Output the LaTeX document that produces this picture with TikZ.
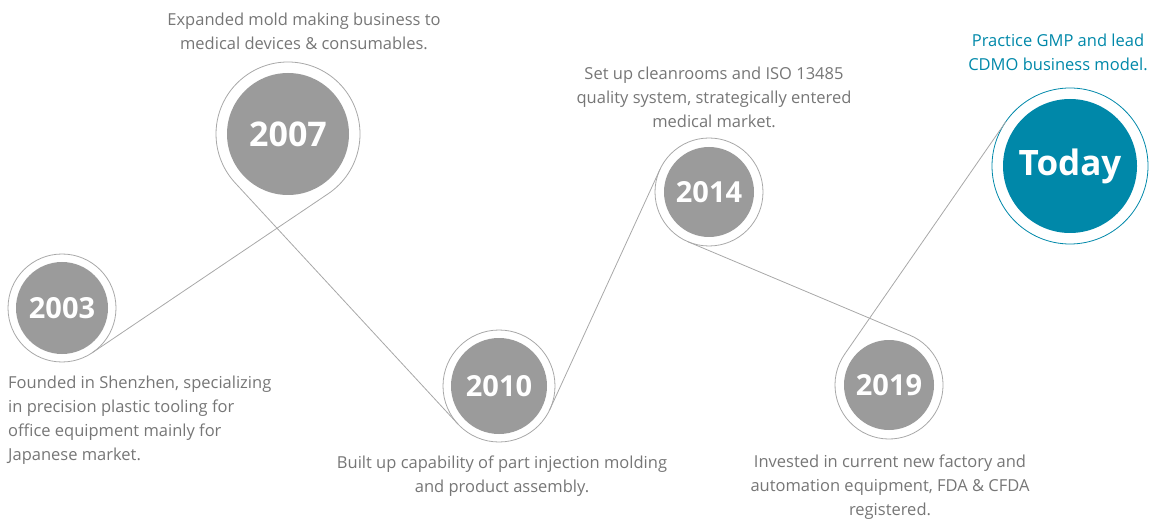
\documentclass[tikz,border=0pt]{standalone}
\usepackage{fontspec}
\setmainfont{Open Sans}
\usetikzlibrary{positioning}

\definecolor{lineGray}{HTML}{A8A8A8}
\definecolor{yearGray}{HTML}{9B9B9B}
\definecolor{noteGray}{HTML}{767676}
\definecolor{tealBlue}{HTML}{0088A9}

\tikzstyle{ring} = [
  circle, inner sep=0pt, outer sep=0pt,
  draw=lineGray, line width=0.8pt
]
\tikzstyle{pin} = [
  circle, inner sep=0pt, outer sep=0pt
]
\tikzstyle{year} = [
  circle, inner sep=0pt,
  fill=yearGray, text=white,
  font=\bfseries\fontsize{29}{29}\selectfont
]
\tikzstyle{note} = [
  inner sep=0pt, align=center, text=noteGray,
  font=\fontsize{16.5}{24}\selectfont
]
\tikzset{
  link/.style={draw=lineGray, line width=0.8pt}
}

\begin{document}
\begin{tikzpicture}[x=1pt, y=1pt]

\useasboundingbox (0,0) rectangle (1158,-526);

% ------------------------------------------------
% CIRCULOS (aros y años)
% ------------------------------------------------

% 2003
\node[ring, minimum size=108pt] (o2003) at (62,-308) {};
\node[year, minimum size=92pt] (y2003) at (o2003) {2003};

% 2007 (aro abierto por debajo)
\node[pin, minimum size=144pt] (o2007) at (288,-134) {};
\node[year, minimum size=122pt, font=\bfseries\fontsize{34}{34}\selectfont] (y2007) at (o2007) {2007};

% 2010
\node[ring, minimum size=112pt] (o2010) at (499,-386) {};
\node[year, minimum size=96pt] (y2010) at (o2010) {2010};

% 2014
\node[ring, minimum size=108pt] (o2014) at (709,-192) {};
\node[year, minimum size=90pt] (y2014) at (o2014) {2014};

% 2019 (aro abierto por arriba)
\node[pin, minimum size=108pt] (o2019) at (889,-385) {};
\node[year, minimum size=90pt] (y2019) at (o2019) {2019};

% Today
\node[ring, draw=tealBlue, minimum size=156pt] (oToday) at (1070,-166) {};
\node[year, fill=tealBlue, minimum size=134pt, font=\bfseries\fontsize{35}{35}\selectfont] (yToday) at (oToday) {Today};

% ------------------------------------------------
% TEXTOS
% ------------------------------------------------

\node[note, align=left, anchor=north west] (t2003) at (8,-376) {%
  Founded in Shenzhen, specializing\\
  in precision plastic tooling for\\
  office equipment mainly for\\
  Japanese market.
};

\node[note, above=12pt of o2007, xshift=16pt] (t2007) {%
  Expanded mold making business to\\
  medical devices \& consumables.
};

\node[note, below=14pt of o2010, xshift=3pt] (t2010) {%
  Built up capability of part injection molding\\
  and product assembly.
};

\node[note, above=10pt of o2014, xshift=5pt] (t2014) {%
  Set up cleanrooms and ISO 13485\\
  quality system, strategically entered\\
  medical market.
};

\node[note, below=16pt of o2019, xshift=1pt] (t2019) {%
  Invested in current new factory and\\
  automation equipment, FDA \& CFDA\\
  registered.
};

\node[note, text=tealBlue, above=17pt of oToday, xshift=-12pt] (tToday) {%
  Practice GMP and lead\\
  CDMO business model.
};

% ------------------------------------------------
% LINEAS TANGENTES
% ------------------------------------------------

% aros abiertos
\draw[link] (o2007.-56) arc[start angle=-56, end angle=223, radius=72pt];
\draw[link] (o2019.145) arc[start angle=145, end angle=427, radius=54pt];

\draw[link] (o2003.-56) -- (o2007.-56);
\draw[link] (o2007.223) -- (o2010.223);
\draw[link] (o2010.-25) -- (o2014.155);
\draw[link] (o2014.-113) -- (o2019.67);
\draw[link] (o2019.145) -- (oToday.145);

\end{tikzpicture}
\end{document}
